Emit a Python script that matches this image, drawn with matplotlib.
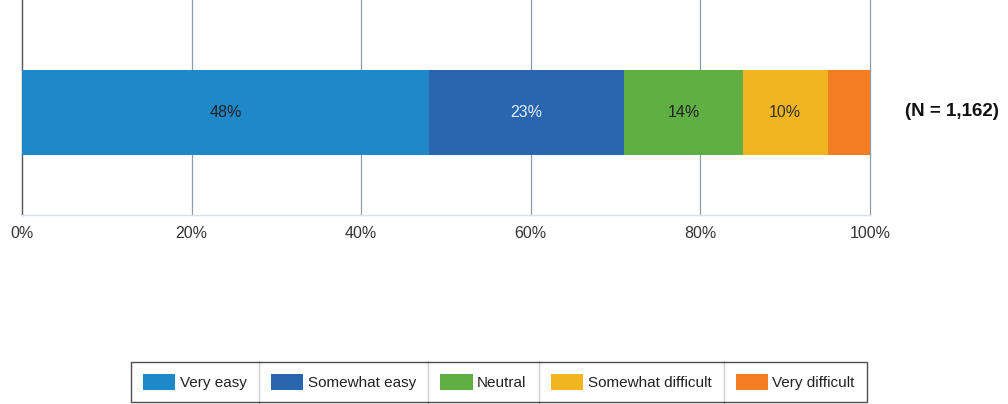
import matplotlib
matplotlib.use("Agg")
import matplotlib.pyplot as plt
from matplotlib.patches import Patch
from matplotlib.lines import Line2D

categories = ["Very easy", "Somewhat easy", "Neutral", "Somewhat difficult", "Very difficult"]
values = [48, 23, 14, 10, 5]
bar_labels = ["48%", "23%", "14%", "10%", ""]
colors = ["#1E88C8", "#2A65B0", "#5FAF45", "#F2B51D", "#F27D22"]
label_colors = ["#222222", "#E8EEF8", "#222222", "#333333", "#222222"]
xticks = [0, 20, 40, 60, 80, 100]
xtick_labels = ["0%", "20%", "40%", "60%", "80%", "100%"]
n_label = "(N = 1,162)"

FONT = ["Liberation Sans Narrow", "Liberation Sans", "DejaVu Sans"]
plt.rcParams["font.family"] = FONT

W, H = 1008, 404
fig = plt.figure(figsize=(W / 100, H / 100), dpi=100)
ax = fig.add_axes([22 / W, 1 - 215 / H, (870 - 22) / W, 215 / H])
ax.set_xlim(0, 100)
ax.set_ylim(-1, 1)

left = 0
bar_y = 1 - 2 * 112.5 / 215
bar_h = 2 * 85 / 215
for v, c, lab, lc in zip(values, colors, bar_labels, label_colors):
    ax.barh(bar_y, v, left=left, height=bar_h, color=c, edgecolor="none", zorder=3)
    if lab:
        ax.text(left + v / 2, bar_y, lab, ha="center", va="center", fontsize=11.5,
                color=lc, zorder=4)
    left += v

ax.set_xticks(xticks)
ax.set_xticklabels(xtick_labels, fontsize=11.5, color="#333333")
ax.set_yticks([])
ax.tick_params(axis="x", length=0, pad=8)
for xt in xticks[1:]:
    ax.axvline(xt, color="#8C9AAB", linewidth=0.9, zorder=0, clip_on=False)
for s in ["top", "right"]:
    ax.spines[s].set_visible(False)
ax.spines["left"].set_color("#555555")
ax.spines["left"].set_linewidth(1.0)
ax.spines["bottom"].set_color("#D5E3F0")
ax.spines["bottom"].set_linewidth(1.0)

fig.text(952 / W, 1 - 112 / H, n_label, ha="center", va="center", fontsize=13.5,
         fontweight="bold", color="#111111")

handles = [Patch(facecolor=c, edgecolor="none") for c in colors]
leg = fig.legend(handles, categories, ncol=5, loc="center",
                 bbox_to_anchor=((132 + 866) / 2 / W, 1 - 382 / H),
                 frameon=True, fancybox=False, edgecolor="#222222",
                 fontsize=11, handlelength=2.1, handleheight=1.2,
                 handletextpad=0.3, columnspacing=1.6, borderpad=0.8,
                 borderaxespad=0)
leg.get_frame().set_linewidth(1.0)
for t in leg.get_texts():
    t.set_color("#222222")

fig.canvas.draw()
r = fig.canvas.get_renderer()
texts = leg.get_texts()
hs = leg.legend_handles
fb = leg.get_frame().get_window_extent(r)
for i in range(len(texts) - 1):
    x_end = texts[i].get_window_extent(r).x1
    x_next = hs[i + 1].get_window_extent(r).x0
    xm = (x_end + x_next) / 2 / W
    fig.add_artist(Line2D([xm, xm], [fb.y0 / H, fb.y1 / H], color="#222222",
                          linewidth=1.0, transform=fig.transFigure))

fig.savefig("out.png", dpi=100)
